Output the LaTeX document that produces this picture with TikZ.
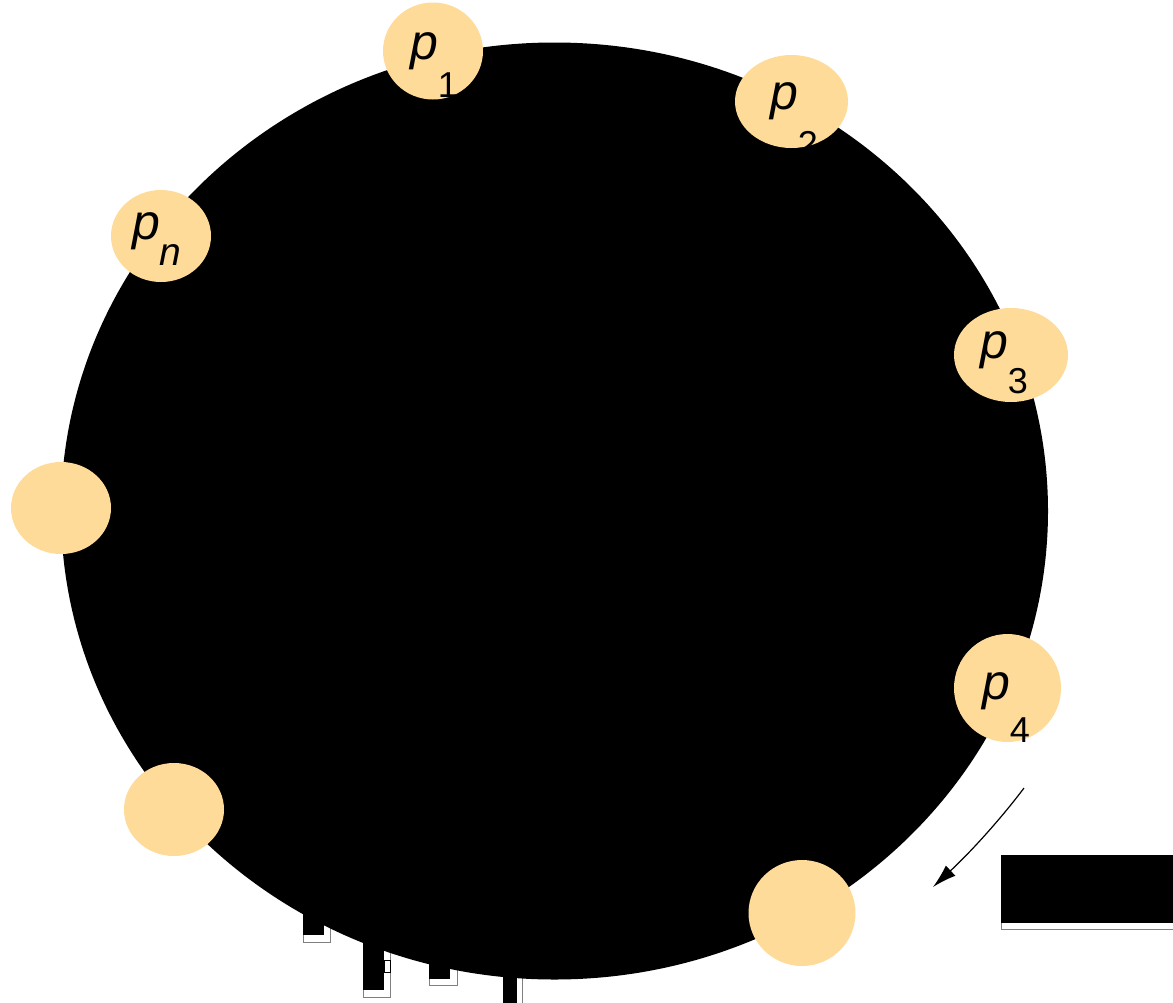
\documentclass[tikz,border=0pt]{standalone}
\usepackage{fontspec}
\setmainfont{Liberation Sans}
\usepackage{tikz}
\usetikzlibrary{arrows.meta,shapes.geometric}
\definecolor{procfill}{HTML}{FFDB99}
\newcommand{\subdigit}[1]{{\fontsize{36}{36}\selectfont\upshape #1}}
% p with a lowered index, as a box of no size so that the label sits at its base point
\newcommand{\plab}[2]{\smash{\rlap{p\raisebox{-#2}{#1}}}}
\tikzset{
  ringbox/.style={ellipse, fill=black, inner sep=0pt, minimum width=987pt, minimum height=937pt},
  procbox/.style={ellipse, fill=procfill, inner sep=0pt},
  plabel/.style={inner sep=0pt, font=\fontsize{50}{50}\selectfont\itshape},
  shadowbox/.style={draw=gray, fill=white, line width=0.8pt},
  flowline/.style={-{Latex[length=24pt,width=14pt]}, line width=1.2pt}
}
\begin{document}
\begin{tikzpicture}[x=1pt,y=-1pt]
  \useasboundingbox (0,0) rectangle (1173,1002);
  \clip (0,0) rectangle (1173,1002);
  % outlines under the ring
  \draw[shadowbox] (303,880) rectangle (330,942);
  \draw[shadowbox] (363,880) rectangle (390,997);
  \draw[shadowbox] (429,880) rectangle (457,985);
  \draw[shadowbox] (503,880) rectangle (522,1010);
  % the ring
  \node[ringbox] (ring) at (554.5,511) {};
  \fill (303,880) rectangle (324,935);
  \fill (363,880) rectangle (384,990);
  \draw[line width=1pt] (384,960) rectangle (390,972);
  \fill (429,880) rectangle (450,979);
  \fill (503,880) rectangle (517,1010);
  % processes
  \node[procbox, minimum width=100pt, minimum height=97pt,
    label={[plabel, xshift=-23pt, yshift=-8pt]center:\plab{\subdigit{1}}{38pt}}] (p1) at (433,51) {};
  \node[procbox, minimum width=113pt, minimum height=93pt,
    label={[plabel, xshift=-21.5pt, yshift=-7.5pt]center:\plab{\subdigit{2}}{47pt}}] (p2) at (791.5,101.5) {};
  \node[procbox, minimum width=114pt, minimum height=94pt,
    label={[plabel, xshift=-31pt, yshift=-3pt]center:\plab{\subdigit{3}}{35pt}}] (p3) at (1011,355) {};
  \node[procbox, minimum width=107pt, minimum height=108pt,
    label={[plabel, xshift=-25.5pt, yshift=-11pt]center:\plab{\subdigit{4}}{43pt}}] (p4) at (1007.5,688) {};
  \node[procbox, minimum width=107pt, minimum height=106pt] (p5) at (802,913) {};
  \node[procbox, minimum width=100pt, minimum height=93pt] (p6) at (174,809.5) {};
  \node[procbox, minimum width=100pt, minimum height=92pt] (p7) at (61,508) {};
  \node[procbox, minimum width=100pt, minimum height=92pt,
    label={[plabel, xshift=-29pt, yshift=-3pt]center:\plab{\fontsize{39}{39}\selectfont n}{26pt}}] (pn) at (161,236) {};
  % direction arrow
  \coordinate (turnfrom) at (1024,788);
  \coordinate (turnc1) at (999.7,820.3);
  \coordinate (turnc2) at (969.3,853.3);
  \coordinate (turnto) at (933,887);
  \draw[flowline] (turnfrom) .. controls (turnc1) and (turnc2) .. (turnto);
  % box on the right
  \draw[shadowbox] (1001,855) rectangle (1190,929);
  \node[fill=black, inner sep=0pt, minimum width=190pt, minimum height=68pt, anchor=north west] (note) at (1001,855) {};
\end{tikzpicture}
\end{document}
